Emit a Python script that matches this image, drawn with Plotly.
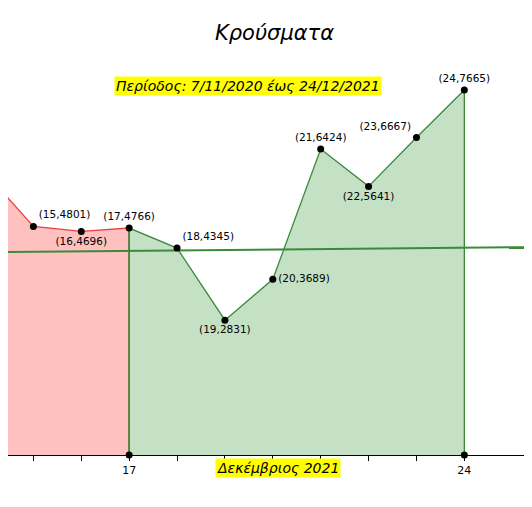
import plotly.graph_objects as go

days = [14, 15, 16, 17, 18, 19, 20, 21, 22, 23, 24]
cases = [5925, 4801, 4696, 4766, 4345, 2831, 3689, 6424, 5641, 6667, 7665]
trend_x = [14.47, 25.58]
trend_y = [4263, 4368]
positions = ["top right", "top right", "bottom center", "top center", "top right", "bottom center",
             "middle right", "top center", "bottom center", "top left", "top center"]

red_x = [d for d in days if d <= 17]
red_y = cases[:len(red_x)]
green_x = [d for d in days if d >= 17]
green_y = cases[len(red_x) - 1:]

fig = go.Figure()
fig.add_trace(go.Scatter(x=[red_x[0]] + red_x + [red_x[-1]], y=[0] + red_y + [0], fill="toself",
                         fillcolor="rgba(255,150,150,0.6)", line=dict(color="#e84040", width=1.3),
                         mode="lines", hoverinfo="skip"))
fig.add_trace(go.Scatter(x=[green_x[0]] + green_x + [green_x[-1]], y=[0] + green_y + [0], fill="toself",
                         fillcolor="rgba(150,200,150,0.55)", line=dict(color="#3a8a3a", width=1.3),
                         mode="lines", hoverinfo="skip"))
fig.add_trace(go.Scatter(x=trend_x, y=trend_y, mode="lines", line=dict(color="#3a8a3a", width=2)))
fig.add_trace(go.Scatter(x=[17, 17, 24, 24], y=[0, cases[3], None, cases[-1]], mode="lines",
                         line=dict(color="#3a8a3a", width=1.3)))
fig.add_trace(go.Scatter(x=[17, 24], y=[0, 0], mode="markers", marker=dict(color="black", size=7)))
fig.add_trace(go.Scatter(x=days, y=cases, mode="markers+text", marker=dict(color="black", size=7),
                         text=[f"({d},{c})" for d, c in zip(days, cases)], textposition=positions,
                         cliponaxis=False,
                         textfont=dict(size=10.5, color="black", family="DejaVu Sans")))

fig.update_layout(
    width=532, height=507, margin=dict(l=0, r=0, t=0, b=0, autoexpand=False), showlegend=False,
    plot_bgcolor="white", paper_bgcolor="white",
    xaxis=dict(range=[14.47, 25.58], showgrid=False, zeroline=False, showline=True, linecolor="black",
               tickvals=list(range(15, 25)), ticktext=["" if v not in (17, 24) else str(v) for v in range(15, 25)],
               ticks="outside", ticklen=5, tickcolor="black", anchor="free", position=(507 - 447) / 507,
               automargin=False,
               tickfont=dict(size=11, color="black", family="DejaVu Sans")),
    yaxis=dict(range=[-1260, 9387], visible=False),
    annotations=[
        dict(text="<i>Κρούσματα</i>", x=0.5, y=1 - 25 / 507, xref="paper", yref="paper", yanchor="middle",
             showarrow=False, font=dict(size=21, color="black", family="DejaVu Sans")),
        dict(text="<i>Περίοδος: 7/11/2020 έως 24/12/2021</i>", x=240 / 532, y=1 - 68 / 507,
             xref="paper", yref="paper", showarrow=False, bgcolor="yellow",
             font=dict(size=14, color="black", family="DejaVu Sans")),
        dict(text="<i>Δεκέμβριος 2021</i>", x=270 / 532, y=1 - 470 / 507,
             xref="paper", yref="paper", showarrow=False, bgcolor="yellow",
             font=dict(size=14, color="black", family="DejaVu Sans")),
    ],
)
fig.write_html("out.html")
